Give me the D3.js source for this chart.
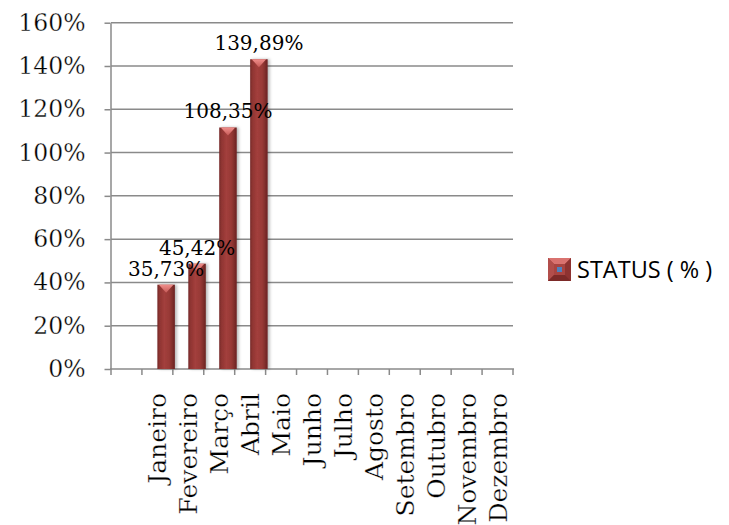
<!DOCTYPE html>
<html><head><meta charset="utf-8">
<script src="https://cdn.jsdelivr.net/npm/d3@7"></script>
<style>body{margin:0;background:#fff}svg{display:block}
.serif{font-family:"DejaVu Serif";stroke:#fff;stroke-width:0.3px;fill:#000}
.lbl{font-family:"DejaVu Serif";fill:#000}</style>
</head><body>
<svg id="c" width="729" height="525"></svg>
<script>
const categories = ["", "Janeiro","Fevereiro","Março","Abril","Maio","Junho","Julho","Agosto","Setembro","Outubro","Novembro","Dezembro"];
const values = [null, 0.3573, 0.4542, 1.0835, 1.3989, null, null, null, null, null, null, null, null];
const valueLabels = ["", "35,73%", "45,42%", "108,35%", "139,89%", "", "", "", "", "", "", "", ""];
const yTicks = [0, 0.2, 0.4, 0.6, 0.8, 1.0, 1.2, 1.4, 1.6];
const seriesName = "STATUS ( % )";

(function () {
const svg = d3.select("#c");
const pL = 111, pR = 513, pT = 22.7, pB = 369;
const x = d3.scaleBand().domain(categories).range([pL, pR]).padding(0);
const y = d3.scaleLinear().domain([0, 1.6]).range([pB, pT]);
const depth = 7; // 3D depth rise
const barW = 17.5;

const defs = svg.append("defs");
const g = defs.append("linearGradient").attr("id", "bar").attr("x1", 0).attr("x2", 1).attr("y1", 0).attr("y2", 0);
[[0, "#742826"], [0.12, "#8e3432"], [0.4, "#a33f3c"], [0.7, "#973936"], [1, "#6a2321"]].forEach(s => g.append("stop").attr("offset", s[0]).attr("stop-color", s[1]));
const tg = defs.append("linearGradient").attr("id", "cap").attr("x1", 0).attr("x2", 0).attr("y1", 0).attr("y2", 1);
[[0, "#f08e8b"], [1, "#c55a57"]].forEach(s => tg.append("stop").attr("offset", s[0]).attr("stop-color", s[1]));
const f = defs.append("filter").attr("id", "sh").attr("x", "-30%").attr("y", "-10%").attr("width", "160%").attr("height", "120%");
f.append("feDropShadow").attr("dx", 2).attr("dy", 0).attr("stdDeviation", 1.5).attr("flood-color", "#000").attr("flood-opacity", 0.28);

// gridlines
svg.append("g").selectAll("line").data(yTicks.slice(1)).join("line")
  .attr("x1", pL).attr("x2", pR).attr("y1", d => y(d)).attr("y2", d => y(d))
  .attr("stroke", "#8a8a8a").attr("stroke-width", 1.5);

// y axis
const ya = svg.append("g").attr("transform", `translate(${pL - 0.5},0)`)
  .call(d3.axisLeft(y).tickValues(yTicks).tickFormat(d => Math.round(d * 100) + "%").tickSize(6).tickPadding(19).tickSizeOuter(0));
ya.select(".domain").attr("stroke", "#8a8a8a").attr("stroke-width", 1.5);
ya.selectAll(".tick line").attr("stroke", "#8a8a8a").attr("stroke-width", 1.5);
ya.selectAll("text").attr("class", "serif").attr("font-family", null).attr("fill", null).style("font-size", "23.5px");

// x axis
const xa = svg.append("g").attr("transform", `translate(0,${pB})`);
xa.append("line").attr("x1", pL - 1).attr("x2", pR + 1).attr("stroke", "#8a8a8a").attr("stroke-width", 1.5);
const bounds = categories.map(c => x(c)).concat([pR]);
xa.selectAll("line.t").data(bounds).join("line").attr("class", "t")
  .attr("x1", d => d).attr("x2", d => d).attr("y1", 0).attr("y2", 6)
  .attr("stroke", "#8a8a8a").attr("stroke-width", 1.5);
xa.selectAll("text").data(categories).join("text")
  .attr("class", "serif")
  .attr("transform", d => `translate(${x(d) + x.bandwidth() / 2},24) rotate(-90)`)
  .attr("text-anchor", "end").attr("dy", "0.36em")
  .style("font-size", "25px")
  .text(d => d);

// bars
const bars = svg.append("g");
const labels = svg.append("g");
categories.forEach((c, i) => {
  const v = values[i];
  if (v == null) return;
  const bx = x(c) + x.bandwidth() / 2;
  const by = y(v) - depth;
  bars.append("rect").attr("x", bx).attr("y", by).attr("width", barW).attr("height", pB - by)
    .attr("fill", "url(#bar)").attr("filter", "url(#sh)");
  bars.append("path")
    .attr("d", `M${bx + 1.5},${by} L${bx + barW - 1.5},${by} L${bx + barW / 2},${by + 8} Z`)
    .attr("fill", "url(#cap)");
  labels.append("text").attr("class", "lbl").attr("x", bx + barW / 2).attr("y", by - 9)
    .attr("text-anchor", "middle").style("font-size", "20px")
    .text(valueLabels[i]);
});

// legend
const lg = svg.append("g").attr("transform", "translate(548,258)");
const s = 23, b = 6;
lg.append("rect").attr("width", s).attr("height", s).attr("fill", "#9b3936");
lg.append("path").attr("d", `M0,0 L${s},0 L${s - b},${b} L${b},${b} Z`).attr("fill", "#d9726f");
lg.append("path").attr("d", `M0,0 L${b},${b} L${b},${s - b} L0,${s} Z`).attr("fill", "#b24e4b");
lg.append("path").attr("d", `M${s},0 L${s},${s} L${s - b},${s - b} L${s - b},${b} Z`).attr("fill", "#8e3331");
lg.append("path").attr("d", `M0,${s} L${b},${s - b} L${s - b},${s - b} L${s},${s} Z`).attr("fill", "#7c2a28");
lg.append("rect").attr("x", b).attr("y", b).attr("width", s - 2 * b).attr("height", s - 2 * b).attr("fill", "#a94441");
lg.append("rect").attr("x", s / 2 - 2.5).attr("y", s / 2 - 2.5).attr("width", 5).attr("height", 5).attr("fill", "#4f81bd");
lg.append("text").attr("x", 29).attr("y", s / 2).attr("dy", "0.36em")
  .attr("font-family", "Open Sans").attr("font-size", "23.5px").attr("fill", "#000").text(seriesName);
})();
</script>
</body></html>
